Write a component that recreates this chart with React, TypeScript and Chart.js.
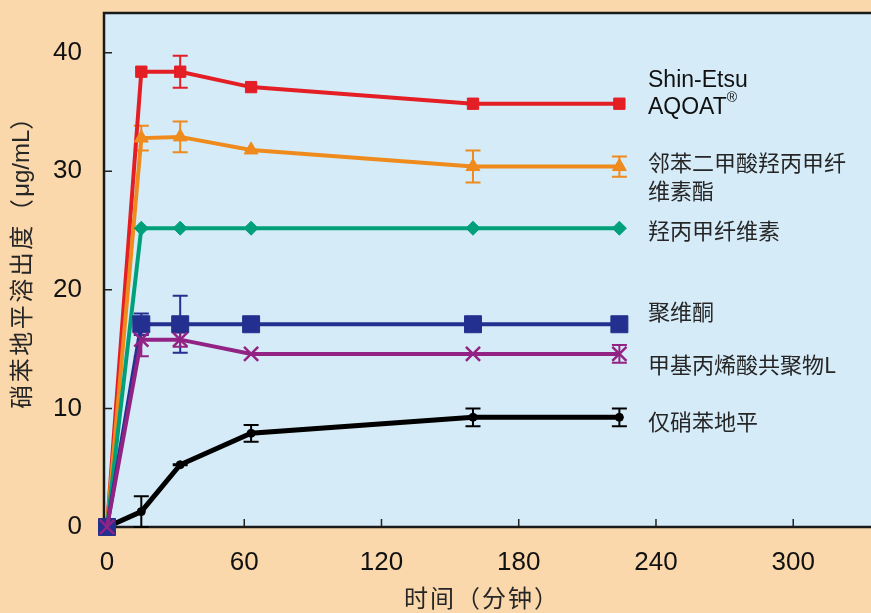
import React, { useEffect, useRef } from 'react';
import { Chart, registerables } from 'chart.js';

Chart.register(...registerables);

// ---- data ----
const times = [0, 15, 32, 63, 160, 224];
const xTickValues = [0, 60, 120, 180, 240, 300];
const yTickValues = [0, 10, 20, 30, 40];

const aqoatValues = [0, 38.4, 38.4, 37.1, 35.7, 35.7];
const aqoatErrors = [0, 0, 1.35, 0, 0, 0];
const hpmcpValues = [0, 32.8, 32.9, 31.8, 30.4, 30.4];
const hpmcpErrors = [0, 1.05, 1.3, 0, 1.35, 0.85];
const hpmcValues = [0, 25.2, 25.2, 25.2, 25.2, 25.2];
const hpmcErrors = [0, 0, 0, 0, 0, 0];
const pvpValues = [0, 17.1, 17.1, 17.1, 17.1, 17.1];
const pvpErrors = [0, 0.9, 2.4, 0, 0, 0];
const eudragitValues = [0, 15.8, 15.8, 14.6, 14.6, 14.6];
const eudragitErrors = [0, 1.4, 0.6, 0, 0, 0.75];
const nifedipineValues = [0, 1.3, 5.25, 7.9, 9.25, 9.25];
const nifedipineErrors = [0, 1.3, 0.05, 0.7, 0.75, 0.75];

const seriesLabels = [
  ['Shin-Etsu', 'AQOAT'],
  ['邻苯二甲酸羟丙甲纤', '维素酯'],
  ['羟丙甲纤维素'],
  ['聚维酮'],
  ['甲基丙烯酸共聚物L'],
  ['仅硝苯地平'],
];

const xTitle = '时间（分钟）';
const yTitleParts = ['硝苯地平溶出度（', 'μg/mL', '）'];

// ---- styles ----
const PEACH = '#fad8ab';
const PLOT = '#d5ebf8';
const RED = '#e31e24';
const ORANGE = '#ef8a1c';
const GREEN = '#00a07a';
const NAVY = '#23308f';
const PURPLE = '#922283';
const BLACK = '#000000';
const TEXT = '#262626';
const LATIN = '"Liberation Sans", Arial, sans-serif';
const CJK = '"Noto Sans CJK SC", "Noto Sans", sans-serif';

// label line offsets (px) relative to each series' last point
const labelOffsets = [[-23, 4], [-3.5, 24.5], [2], [-13], [11], [4]];

const toPoints = (vals: number[]) => vals.map((v, i) => ({ x: times[i], y: v }));

const decoPlugin = {
  id: 'deco',
  beforeDraw(chart: any) {
    const { ctx, chartArea: a } = chart;
    ctx.save();
    ctx.fillStyle = PEACH;
    ctx.fillRect(0, 0, chart.width, chart.height);
    ctx.fillStyle = PLOT;
    ctx.fillRect(a.left, a.top, chart.width - a.left, a.bottom - a.top);
    ctx.restore();
  },
  beforeDatasetsDraw(chart: any) {
    const { ctx, chartArea: a, scales } = chart;
    const xs = scales.x;
    const ys = scales.y;
    ctx.save();
    // inward tick marks
    ctx.strokeStyle = '#222';
    ctx.lineWidth = 1.5;
    ctx.beginPath();
    yTickValues.forEach((v) => {
      const py = ys.getPixelForValue(v);
      ctx.moveTo(a.left, py);
      ctx.lineTo(a.left + 8, py);
    });
    xTickValues.forEach((v) => {
      const px = xs.getPixelForValue(v);
      ctx.moveTo(px, a.bottom);
      ctx.lineTo(px, a.bottom - 8);
    });
    ctx.stroke();
    // frame (left, top, bottom)
    ctx.strokeStyle = '#1a1a1a';
    ctx.lineWidth = 2.5;
    ctx.beginPath();
    ctx.moveTo(chart.width, a.top);
    ctx.lineTo(a.left, a.top);
    ctx.lineTo(a.left, a.bottom);
    ctx.lineTo(chart.width, a.bottom);
    ctx.stroke();
    // error bars
    chart.data.datasets.forEach((ds: any, di: number) => {
      const meta = chart.getDatasetMeta(di);
      const errs: number[] = ds.errors || [];
      ctx.strokeStyle = ds.borderColor;
      ctx.lineWidth = 2;
      meta.data.forEach((pt: any, i: number) => {
        const e = errs[i];
        if (!e) return;
        const v = ds.data[i].y;
        const top = ys.getPixelForValue(v + e);
        const bot = ys.getPixelForValue(v - e);
        const x = pt.x;
        ctx.beginPath();
        ctx.moveTo(x, top);
        ctx.lineTo(x, bot);
        ctx.moveTo(x - 7.5, top);
        ctx.lineTo(x + 7.5, top);
        ctx.moveTo(x - 7.5, bot);
        ctx.lineTo(x + 7.5, bot);
        ctx.stroke();
      });
    });
    ctx.restore();
  },
  afterDraw(chart: any) {
    const { ctx } = chart;
    ctx.save();
    // series labels next to the last points
    const labelX = 648;
    seriesLabels.forEach((lines, si) => {
      const meta = chart.getDatasetMeta(si);
      const last = meta.data[meta.data.length - 1];
      lines.forEach((line, li) => {
        const y = last.y + labelOffsets[si][li];
        ctx.fillStyle = si === 0 ? '#111' : TEXT;
        ctx.textBaseline = 'middle';
        ctx.textAlign = 'left';
        const latin = /^[A-Za-z\-]+$/.test(line);
        ctx.font = latin ? `23px ${LATIN}` : `22px ${CJK}`;
        ctx.fillText(line, labelX, y);
        if (si === 0 && li === 1) {
          const w = ctx.measureText(line).width;
          ctx.font = `14px ${LATIN}`;
          ctx.fillText('®', labelX + w, y - 10);
        }
      });
    });
    ctx.restore();

    // axis titles
    ctx.save();
    ctx.fillStyle = TEXT;
    ctx.textBaseline = 'middle';
    ctx.textAlign = 'center';
    ctx.font = `24px ${CJK}`;
    (ctx as any).letterSpacing = '2px';
    ctx.fillText(xTitle, 482, 598);

    // y title: CJK parts spaced, unit in Latin font
    const fonts = [`24px ${CJK}`, `24px ${LATIN}`, `24px ${CJK}`];
    const spacing = ['2.5px', '0px', '2.5px'];
    const widths = yTitleParts.map((p, i) => {
      ctx.font = fonts[i];
      (ctx as any).letterSpacing = spacing[i];
      return ctx.measureText(p).width;
    });
    const total = widths.reduce((s, w) => s + w, 0);
    ctx.translate(21, 256);
    ctx.rotate(-Math.PI / 2);
    ctx.textAlign = 'left';
    let cx = -total / 2;
    yTitleParts.forEach((p, i) => {
      ctx.font = fonts[i];
      (ctx as any).letterSpacing = spacing[i];
      ctx.fillText(p, cx, i === 1 ? 1 : 0);
      cx += widths[i];
    });
    ctx.restore();
  },
};

export default function App() {
  const ref = useRef<HTMLCanvasElement>(null);
  useEffect(() => {
    document.body.style.margin = '0';
    const canvas = ref.current!;
    const mk = (label: string, vals: number[], errs: number[], color: string, style: string, radius: number, width: number, pbw = 1) => ({
      label,
      data: toPoints(vals),
      errors: errs,
      borderColor: color,
      backgroundColor: color,
      borderWidth: width,
      pointStyle: style,
      pointRadius: radius,
      pointBorderColor: color,
      pointBackgroundColor: color,
      pointBorderWidth: pbw,
      tension: 0,
      clip: false,
      showLine: true,
    });
    const datasets: any[] = [
      mk('Shin-Etsu AQOAT', aqoatValues, aqoatErrors, RED, 'rect', 8, 4),
      mk('邻苯二甲酸羟丙甲纤维素酯', hpmcpValues, hpmcpErrors, ORANGE, 'triangle', 8, 4),
      mk('羟丙甲纤维素', hpmcValues, hpmcErrors, GREEN, 'rectRot', 7, 4),
      mk('聚维酮', pvpValues, pvpErrors, NAVY, 'rect', 12, 4),
      mk('甲基丙烯酸共聚物L', eudragitValues, eudragitErrors, PURPLE, 'crossRot', 10, 4, 2.5),
      mk('仅硝苯地平', nifedipineValues, nifedipineErrors, BLACK, 'circle', 4, 5),
    ];
    // drawing order: purple on top, then navy, black, green, orange, red
    const orders = [6, 5, 4, 2, 1, 3];
    datasets.forEach((d, i) => (d.order = orders[i]));

    const chart = new Chart(canvas, {
      type: 'line',
      data: { datasets },
      plugins: [decoPlugin],
      options: {
        animation: false,
        responsive: false,
        devicePixelRatio: 1,
        layout: { autoPadding: false, padding: { top: 13, right: 0, left: 0, bottom: 0 } },
        plugins: { legend: { display: false }, tooltip: { enabled: false } },
        scales: {
          x: {
            type: 'linear',
            position: 'bottom',
            min: -1.31,
            max: 334,
            afterBuildTicks: (s: any) => {
              s.ticks = xTickValues.map((v) => ({ value: v }));
            },
            afterFit: (s: any) => {
              s.height = 86;
              s.paddingLeft = 0;
              s.paddingRight = 0;
              s.paddingTop = 0;
              s.paddingBottom = 0;
            },
            grid: { display: false, drawTicks: false },
            border: { display: false },
            ticks: {
              autoSkip: false,
              maxRotation: 0,
              padding: 20,
              color: '#111',
              font: { family: LATIN, size: 26 },
            },
          },
          y: {
            type: 'linear',
            min: 0,
            max: 43.35,
            afterBuildTicks: (s: any) => {
              s.ticks = yTickValues.map((v) => ({ value: v }));
            },
            afterFit: (s: any) => {
              s.width = 104;
              s.paddingLeft = 0;
              s.paddingRight = 0;
              s.paddingTop = 0;
              s.paddingBottom = 0;
            },
            grid: { display: false, drawTicks: false },
            border: { display: false },
            ticks: {
              padding: 22,
              color: '#111',
              font: { family: LATIN, size: 26 },
            },
          },
        },
      } as any,
    });
    return () => chart.destroy();
  }, []);
  return (
    <div style={{ width: 871, height: 613, overflow: 'hidden' }}>
      <canvas ref={ref} width={871} height={613} style={{ display: 'block', width: 871, height: 613 }} />
    </div>
  );
}
